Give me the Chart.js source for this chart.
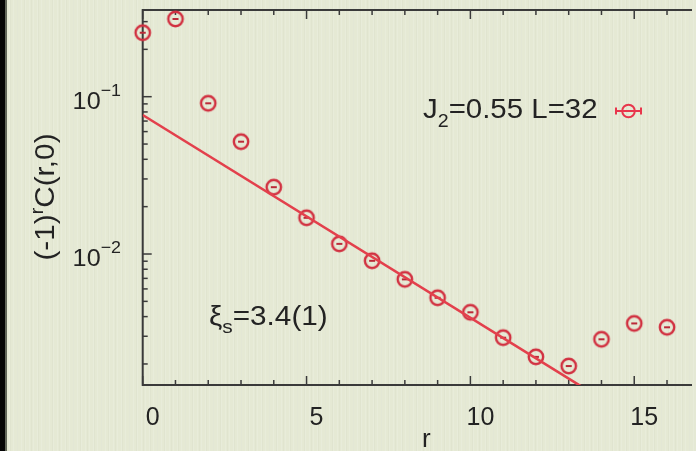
<!DOCTYPE html>
<html><head><meta charset="utf-8">
<script src="https://cdn.jsdelivr.net/npm/chart.js@4.4.1/dist/chart.umd.min.js"></script>
<style>
html,body{margin:0;padding:0;width:696px;height:451px;overflow:hidden;background:#e5e9d4;}
canvas{position:absolute;left:0;top:0;}
</style></head><body>
<canvas id="c" width="696" height="451"></canvas>
<script>
// ---- data ----
const rValues    = [0, 1, 2, 3, 4, 5, 6, 7, 8, 9, 10, 11, 12, 13, 14, 15, 16];
const corrValues = [0.255, 0.312, 0.0908, 0.0518, 0.0266, 0.0170, 0.0116, 0.00906, 0.00690, 0.00527, 0.00426, 0.00294, 0.00222, 0.00194, 0.00287, 0.00362, 0.00342];
const fitR = [0, 14];
const fitC = [0.0765, 0.0012];
const xTickValues = [0,1,2,3,4,5,6,7,8,9,10,11,12,13,14,15,16];
const xLabelValues = [0, 5, 10, 15];
const xLabels = ['0', '5', '10', '15'];
const yMajorTicks = [0.1, 0.01];
const yMajorExps = ['\u22121', '\u22122'];
const yMinorTicks = [0.002,0.003,0.004,0.005,0.006,0.007,0.008,0.009,0.02,0.03,0.04,0.05,0.06,0.07,0.08,0.09,0.2,0.3];
const legendLabel = ['J', '2', '=0.55 L=32'];
const fitLabel = ['\u03BE', 's', '=3.4(1)'];
const xTitle = 'r';
const yTitle = ['(-1)', 'r', 'C(r,0)'];

const FONT = '"Liberation Sans", Arial, Helvetica, sans-serif';
const TXT = '#232323';
const STRETCH = 1.09;

function makePointImg(){
  const c = document.createElement('canvas'); c.width = 22; c.height = 22;
  const g = c.getContext('2d');
  g.strokeStyle = '#d13040'; g.lineWidth = 2.4;
  g.beginPath(); g.arc(11, 11, 7.2, 0, Math.PI*2); g.stroke();
  g.fillStyle = '#bb2a38'; g.fillRect(8, 10, 6, 2);
  return c;
}

function drawRun(ctx, parts, x, y, k){
  let cx = x;
  parts.forEach(([t, size, dy])=>{
    ctx.font = size + 'px ' + FONT;
    ctx.save(); ctx.translate(cx, y + dy); ctx.scale(k, 1);
    ctx.fillText(t, 0, 0); ctx.restore();
    cx += ctx.measureText(t).width * k;
  });
  return cx - x;
}
function runWidth(ctx, parts, k){
  let w = 0;
  parts.forEach(([t, size])=>{ ctx.font = size + 'px ' + FONT; w += ctx.measureText(t).width * k; });
  return w;
}

const deco = {
  id: 'deco',
  beforeDraw(chart){
    const ctx = chart.ctx, W = chart.width, H = chart.height;
    ctx.save();
    ctx.fillStyle = '#e5e9d4'; ctx.fillRect(0, 0, W, H);
    for (let i = 0; i < W; i++) {
      if (i % 4 === 1) { ctx.fillStyle = 'rgba(255,255,255,0.14)'; ctx.fillRect(i, 0, 1, H); }
      if (i % 7 === 3) { ctx.fillStyle = 'rgba(100,110,80,0.035)'; ctx.fillRect(i, 0, 1, H); }
    }
    ctx.fillStyle = '#050505'; ctx.fillRect(0, 0, 5, H);
    ctx.fillStyle = '#62675a'; ctx.fillRect(5, 0, 2, H);
    ctx.restore();
  },
  beforeDatasetsDraw(chart){
    const {ctx, chartArea: a, scales: {x, y}} = chart;
    ctx.save();
    ctx.strokeStyle = '#3a3a3a';
    ctx.lineWidth = 2;
    ctx.beginPath();
    ctx.moveTo(a.right + 5, a.top); ctx.lineTo(a.left, a.top);
    ctx.lineTo(a.left, a.bottom); ctx.lineTo(a.right + 5, a.bottom);
    ctx.stroke();
    ctx.lineWidth = 1.5;
    const seg = (x1,y1,x2,y2)=>{ctx.beginPath();ctx.moveTo(x1,y1);ctx.lineTo(x2,y2);ctx.stroke();};
    xTickValues.forEach(v=>{
      const px = x.getPixelForValue(v);
      const len = (v % 5 === 0) ? 9 : 5;
      seg(px, a.top, px, a.top + len);
      seg(px, a.bottom, px, a.bottom - len);
    });
    yMajorTicks.forEach(v=>{ const py = y.getPixelForValue(v); seg(a.left, py, a.left + 9, py); });
    yMinorTicks.forEach(v=>{ const py = y.getPixelForValue(v); seg(a.left, py, a.left + 5, py); });
    ctx.restore();
  },
  afterDraw(chart){
    const {ctx, scales: {x, y}} = chart;
    ctx.save();
    ctx.fillStyle = TXT;
    ctx.textBaseline = 'alphabetic';
    ctx.textAlign = 'left';
    // x tick labels
    xLabelValues.forEach((v,i)=>{
      const parts = [[xLabels[i], 25, 0]];
      const w = runWidth(ctx, parts, 1.0);
      drawRun(ctx, parts, x.getPixelForValue(v) + 10 - w/2, 425, 1.0);
    });
    // x title
    drawRun(ctx, [[xTitle, 26, 0]], 426 - 4, 447, 1.0);
    // y tick labels
    yMajorTicks.forEach((v,i)=>{
      const py = y.getPixelForValue(v);
      const parts = [['10', 24, 0], [yMajorExps[i], 17, -13]];
      const w = runWidth(ctx, parts, 1.05);
      drawRun(ctx, parts, 121 - w, py + 12, 1.05);
    });
    // y title rotated
    ctx.save();
    ctx.translate(54, 197);
    ctx.rotate(-Math.PI/2);
    const yParts = [[yTitle[0], 27, 0], [yTitle[1], 18, -11], [yTitle[2], 27, 0]];
    const yw = runWidth(ctx, yParts, 1.1);
    drawRun(ctx, yParts, -yw/2, 0, 1.1);
    ctx.restore();
    // legend text
    drawRun(ctx, [[legendLabel[0], 27, 0], [legendLabel[1], 18, 9], [legendLabel[2], 27, 0]], 423, 118, STRETCH);
    // legend symbol
    ctx.strokeStyle = '#e8364c'; ctx.lineWidth = 2;
    const cx = 628.5, cy = 111;
    ctx.beginPath(); ctx.arc(cx, cy, 6.3, 0, Math.PI*2); ctx.stroke();
    ctx.beginPath(); ctx.moveTo(616, cy); ctx.lineTo(641, cy); ctx.stroke();
    ctx.beginPath(); ctx.moveTo(616, cy - 3.5); ctx.lineTo(616, cy + 3.5); ctx.moveTo(641, cy - 3.5); ctx.lineTo(641, cy + 3.5); ctx.stroke();
    // xi annotation
    ctx.fillStyle = TXT;
    drawRun(ctx, [[fitLabel[0], 27, 0], [fitLabel[1], 19, 8], [fitLabel[2], 27, 0]], 209, 325, 1.1);
    ctx.restore();
  }
};

const pointImg = makePointImg();
new Chart(document.getElementById('c'), {
  type: 'scatter',
  data: {
    datasets: [
      {
        label: 'fit',
        data: fitR.map((r,i)=>({x: r, y: fitC[i]})),
        showLine: true,
        borderColor: '#e3404c',
        borderWidth: 2.6,
        pointRadius: 0,
        order: 1
      },
      {
        label: 'J2=0.55 L=32',
        data: rValues.map((r,i)=>({x: r, y: corrValues[i]})),
        pointStyle: pointImg,
        pointRadius: 8,
        clip: false,
        order: 2
      }
    ]
  },
  options: {
    responsive: false,
    animation: false,
    devicePixelRatio: 1,
    layout: { padding: { left: 142.7, top: 10, right: 0, bottom: 66 } },
    plugins: { legend: { display: false }, tooltip: { enabled: false } },
    scales: {
      x: { type: 'linear', display: false, min: 0, max: 16.61, bounds: 'data' },
      y: { type: 'logarithmic', display: false, min: 0.001470, max: 0.3557, bounds: 'data' }
    }
  },
  plugins: [deco]
});
</script>
</body></html>
